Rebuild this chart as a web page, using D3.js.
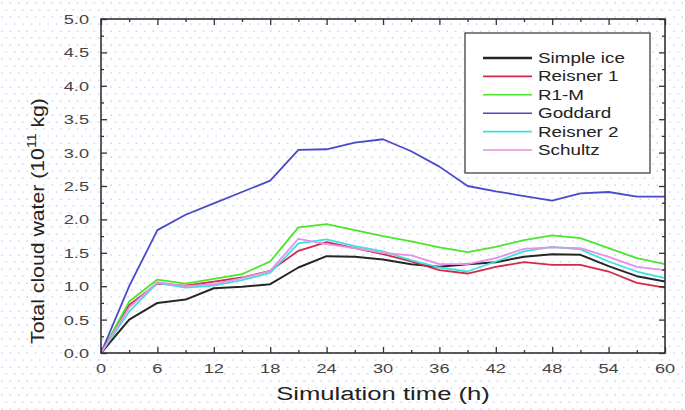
<!DOCTYPE html>
<html>
<head>
<meta charset="utf-8">
<script src="https://cdn.jsdelivr.net/npm/d3@7"></script>
<style>
  html, body { margin: 0; padding: 0; background: #fff; }
  text { font-family: "Liberation Sans", Arial, sans-serif; }
</style>
</head>
<body>
<svg class="chart"></svg>
<script>
'use strict'

// simulation time (h)
const time = [0, 3, 6, 9, 12, 15, 18, 21, 24, 27, 30, 33, 36, 39, 42, 45, 48, 51, 54, 57, 60]

// total cloud water (1e11 kg) per scheme
const simpleIce = [0, 0.50, 0.75, 0.80, 0.97, 0.99, 1.03, 1.28, 1.45, 1.44, 1.40, 1.33, 1.29, 1.33, 1.36, 1.44, 1.48, 1.47, 1.30, 1.15, 1.07]
const reisner1 = [0, 0.72, 1.04, 1.01, 1.07, 1.13, 1.23, 1.53, 1.66, 1.57, 1.48, 1.37, 1.24, 1.19, 1.29, 1.36, 1.32, 1.32, 1.22, 1.05, 0.98]
const r1m = [0, 0.77, 1.10, 1.04, 1.11, 1.18, 1.37, 1.88, 1.93, 1.84, 1.75, 1.67, 1.58, 1.51, 1.59, 1.69, 1.76, 1.72, 1.57, 1.42, 1.33]
const goddard = [0, 1.00, 1.84, 2.07, 2.24, 2.41, 2.58, 3.04, 3.05, 3.15, 3.20, 3.02, 2.79, 2.50, 2.42, 2.35, 2.28, 2.39, 2.41, 2.34, 2.34]
const reisner2 = [0, 0.62, 1.05, 0.98, 1.01, 1.09, 1.20, 1.64, 1.70, 1.60, 1.52, 1.39, 1.28, 1.22, 1.37, 1.52, 1.59, 1.55, 1.37, 1.22, 1.12]
const schultz = [0, 0.68, 1.06, 1.00, 1.03, 1.12, 1.23, 1.71, 1.63, 1.57, 1.50, 1.46, 1.33, 1.33, 1.42, 1.56, 1.58, 1.57, 1.44, 1.29, 1.24]

const seriesNames = ['Simple ice', 'Reisner 1', 'R1-M', 'Goddard', 'Reisner 2', 'Schultz']
const seriesValues = [simpleIce, reisner1, r1m, goddard, reisner2, schultz]
const seriesColors = ['#262626', '#d42a48', '#4ae62a', '#4a4ac8', '#3ee0e0', '#e690e6']

const xTicks = [0, 6, 12, 18, 24, 30, 36, 42, 48, 54, 60]
const yTicks = [0, 0.5, 1, 1.5, 2, 2.5, 3, 3.5, 4, 4.5, 5]

const width = 685
const height = 410
const plot = { left: 101, right: 665, top: 19, bottom: 353 }
const stretch = 1.35 // glyphs in the picture are wide

const svg = d3.select('.chart')
  .attr('width', width)
  .attr('height', height)

// dotted background
const defs = svg.append('defs')
const pat = defs.append('pattern')
  .attr('id', 'dots')
  .attr('patternUnits', 'userSpaceOnUse')
  .attr('width', 8.4)
  .attr('height', 14)
pat.append('circle').attr('cx', 2).attr('cy', 3).attr('r', 0.85).attr('fill', '#cacaf4')
pat.append('circle').attr('cx', 6.2).attr('cy', 10).attr('r', 0.85).attr('fill', '#cacaf4')

svg.append('rect').attr('width', width).attr('height', height).attr('fill', '#fff')
svg.append('rect').attr('width', width).attr('height', height).attr('fill', 'url(#dots)')

const x = d3.scaleLinear().domain([0, 60]).range([plot.left, plot.right])
const y = d3.scaleLinear().domain([0, 5]).range([plot.bottom, plot.top])

// series lines
const line = d3.line()
  .x((d, i) => x(time[i]))
  .y(d => y(d))

const lines = svg.append('g').attr('class', 'lines')
seriesValues.forEach((vals, k) => {
  lines.append('path')
    .datum(vals)
    .attr('d', line)
    .attr('fill', 'none')
    .attr('stroke', seriesColors[k])
    .attr('stroke-width', k === 0 ? 2 : 1.8)
    .attr('stroke-linejoin', 'round')
})

// axes: ticks inward on all four sides
const axisColor = '#333'
const minorX = d3.range(3, 60, 6)
const minorY = d3.range(0.25, 5, 0.5)

svg.append('g')
  .attr('transform', `translate(0,${plot.bottom})`)
  .call(d3.axisTop(x).tickValues(xTicks).tickSize(6).tickFormat(''))
svg.append('g')
  .attr('transform', `translate(0,${plot.bottom})`)
  .call(d3.axisTop(x).tickValues(minorX).tickSize(3).tickFormat(''))
svg.append('g')
  .attr('transform', `translate(0,${plot.top})`)
  .call(d3.axisBottom(x).tickValues(xTicks).tickSize(6).tickFormat(''))
svg.append('g')
  .attr('transform', `translate(0,${plot.top})`)
  .call(d3.axisBottom(x).tickValues(minorX).tickSize(3).tickFormat(''))
svg.append('g')
  .attr('transform', `translate(${plot.left},0)`)
  .call(d3.axisRight(y).tickValues(yTicks).tickSize(6).tickFormat(''))
svg.append('g')
  .attr('transform', `translate(${plot.left},0)`)
  .call(d3.axisRight(y).tickValues(minorY).tickSize(3).tickFormat(''))
svg.append('g')
  .attr('transform', `translate(${plot.right},0)`)
  .call(d3.axisLeft(y).tickValues(yTicks).tickSize(6).tickFormat(''))
svg.append('g')
  .attr('transform', `translate(${plot.right},0)`)
  .call(d3.axisLeft(y).tickValues(minorY).tickSize(3).tickFormat(''))

svg.selectAll('.domain').remove()
svg.selectAll('.tick line').attr('stroke', axisColor).attr('stroke-width', 1.3)

svg.append('rect')
  .attr('x', plot.left)
  .attr('y', plot.top)
  .attr('width', plot.right - plot.left)
  .attr('height', plot.bottom - plot.top)
  .attr('fill', 'none')
  .attr('stroke', axisColor)
  .attr('stroke-width', 1.6)

// tick labels
svg.append('g').selectAll('text')
  .data(xTicks)
  .join('text')
  .attr('transform', d => `translate(${x(d)},${plot.bottom + 20}) scale(${stretch},1)`)
  .attr('text-anchor', 'middle')
  .attr('font-size', 13.5)
  .attr('fill', '#444')
  .text(d => d)

svg.append('g').selectAll('text')
  .data(yTicks)
  .join('text')
  .attr('transform', d => `translate(${plot.left - 12},${y(d) + 5}) scale(${stretch},1)`)
  .attr('text-anchor', 'end')
  .attr('font-size', 13.5)
  .attr('fill', '#444')
  .text(d => d3.format('.1f')(d))

// axis titles
svg.append('text')
  .attr('transform', `translate(${(plot.left + plot.right) / 2},${plot.bottom + 47}) scale(${stretch},1)`)
  .attr('text-anchor', 'middle')
  .attr('font-size', 19)
  .attr('fill', '#222')
  .text('Simulation time (h)')

const yTitle = svg.append('text')
  .attr('transform', 'translate(44,221) rotate(-90) scale(1.18,1)')
  .attr('text-anchor', 'middle')
  .attr('font-size', 18)
  .attr('fill', '#222')
yTitle.append('tspan').text('Total cloud water (10')
yTitle.append('tspan').attr('font-size', 12).attr('dy', -8).text('11')
yTitle.append('tspan').attr('dy', 8).text(' kg)')

// legend
const legend = svg.append('g').attr('transform', 'translate(465,33)')
legend.append('rect')
  .attr('width', 185)
  .attr('height', 140)
  .attr('fill', '#fff')
  .attr('stroke', '#333')
  .attr('stroke-width', 1.2)
const rows = legend.selectAll('g.row')
  .data(seriesNames)
  .join('g')
  .attr('class', 'row')
  .attr('transform', (d, i) => `translate(0,${25 + i * 18.4})`)
rows.append('line')
  .attr('x1', 18).attr('x2', 67)
  .attr('stroke', (d, i) => seriesColors[i])
  .attr('stroke-width', (d, i) => i === 0 ? 2.4 : 1.6)
rows.append('text')
  .attr('transform', 'translate(73,5) scale(1.3,1)')
  .attr('font-size', 14.5)
  .attr('fill', '#222')
  .text(d => d)
</script>
</body>
</html>
